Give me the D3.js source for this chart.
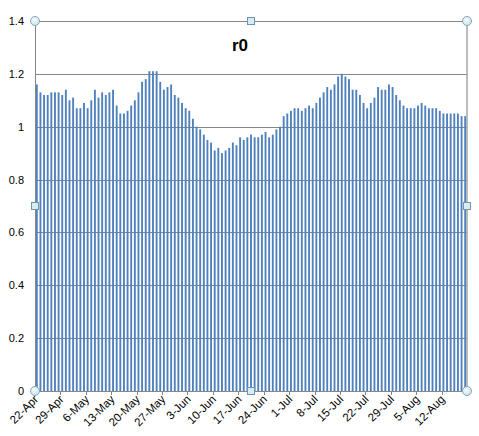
<!DOCTYPE html>
<html>
<head>
<meta charset="utf-8">
<script src="https://cdn.jsdelivr.net/npm/d3@7"></script>
<style>
body { margin: 0; background: #fff; }
svg text { font-family: "Liberation Sans", Arial, sans-serif; }
</style>
</head>
<body>
<script>
// daily r0 values, 22-Apr to 18-Aug
var r0Values = [
    1.16, 1.13, 1.12, 1.12, 1.13, 1.13, 1.13, 1.12, 1.14, 1.10,
    1.11, 1.07, 1.07, 1.09, 1.07, 1.10, 1.14, 1.11, 1.13, 1.12,
    1.13, 1.14, 1.08, 1.05, 1.05, 1.06, 1.08, 1.10, 1.13, 1.17,
    1.18, 1.21, 1.21, 1.21, 1.17, 1.14, 1.15, 1.16, 1.12, 1.11,
    1.09, 1.07, 1.06, 1.03, 1.00, 0.99, 0.97, 0.95, 0.94, 0.91,
    0.92, 0.90, 0.91, 0.92, 0.94, 0.93, 0.96, 0.95, 0.96, 0.97,
    0.96, 0.96, 0.97, 0.98, 0.96, 0.97, 0.99, 1.00, 1.04, 1.05,
    1.06, 1.07, 1.07, 1.06, 1.07, 1.08, 1.07, 1.09, 1.11, 1.13,
    1.15, 1.14, 1.16, 1.19, 1.20, 1.19, 1.18, 1.14, 1.14, 1.12,
    1.09, 1.07, 1.09, 1.11, 1.15, 1.14, 1.14, 1.16, 1.15, 1.12,
    1.10, 1.08, 1.07, 1.07, 1.07, 1.08, 1.09, 1.08, 1.07, 1.07,
    1.07, 1.06, 1.05, 1.05, 1.05, 1.05, 1.05, 1.04, 1.04
];
var startDay = new Date(2013, 3, 22);
var days = d3.timeDay.range(startDay, d3.timeDay.offset(startDay, r0Values.length));
var fmt = d3.timeFormat("%-d-%b");
var categories = days.map(fmt);

var xTickLabels = ["22-Apr", "29-Apr", "6-May", "13-May", "20-May", "27-May", "3-Jun",
    "10-Jun", "17-Jun", "24-Jun", "1-Jul", "8-Jul", "15-Jul", "22-Jul", "29-Jul", "5-Aug", "12-Aug"];
var yTicks = [0, 0.2, 0.4, 0.6, 0.8, 1, 1.2, 1.4];

var W = 479, H = 436;
var plot = {left: 35, right: 467, top: 21, bottom: 391};

var svg = d3.select("body").append("svg")
    .attr("width", W)
    .attr("height", H);

var x = d3.scaleBand()
    .domain(categories)
    .range([plot.left, plot.right])
    .paddingInner(0.48)
    .paddingOuter(0.24);

var y = d3.scaleLinear()
    .domain([0, 1.4])
    .range([plot.bottom, plot.top]);

// gridlines
svg.append("g").selectAll("line").data(yTicks).enter().append("line")
    .attr("x1", plot.left).attr("x2", plot.right)
    .attr("y1", function (d) { return Math.round(y(d)) + 0.5; })
    .attr("y2", function (d) { return Math.round(y(d)) + 0.5; })
    .attr("stroke", "#868686")
    .attr("stroke-width", 1);

// y labels
svg.append("g").selectAll("text").data(yTicks).enter().append("text")
    .attr("x", 24)
    .attr("y", function (d) { return y(d) + 4; })
    .attr("text-anchor", "end")
    .attr("font-size", "11px")
    .attr("fill", "#000")
    .text(function (d) { return d; });

// bars
svg.append("g").selectAll("rect").data(r0Values).enter().append("rect")
    .attr("x", function (d, i) { return x(categories[i]); })
    .attr("y", function (d) { return y(d); })
    .attr("width", x.bandwidth())
    .attr("height", function (d) { return y(0) - y(d); })
    .attr("fill", "#4f81bd");

// axes lines
svg.append("line")
    .attr("x1", plot.left + 0.5).attr("x2", plot.left + 0.5)
    .attr("y1", plot.top).attr("y2", plot.bottom)
    .attr("stroke", "#868686");
svg.append("line")
    .attr("x1", plot.right).attr("x2", plot.right)
    .attr("y1", plot.top).attr("y2", plot.bottom)
    .attr("stroke", "#a6a6a6")
    .attr("stroke-width", 1.5);

// x ticks and rotated labels, at the left edge of each labelled day
var step = x.step();
function tickX(lbl) {
    return x(lbl) - (step - x.bandwidth()) / 2;
}
svg.append("g").selectAll("line").data(xTickLabels).enter().append("line")
    .attr("x1", function (d) { return Math.round(tickX(d)) + 0.5; })
    .attr("x2", function (d) { return Math.round(tickX(d)) + 0.5; })
    .attr("y1", plot.bottom)
    .attr("y2", plot.bottom + 4)
    .attr("stroke", "#868686");

svg.append("g").selectAll("text").data(xTickLabels).enter().append("text")
    .attr("text-anchor", "end")
    .attr("font-size", "11.5px")
    .attr("fill", "#000")
    .attr("transform", function (d) {
        return "translate(" + (tickX(d) + 4) + "," + (plot.bottom + 9) + ") rotate(-45)";
    })
    .text(function (d) { return d; });

// title
svg.append("text")
    .attr("x", 240)
    .attr("y", 51)
    .attr("text-anchor", "middle")
    .attr("font-size", "17px")
    .attr("font-weight", "bold")
    .attr("fill", "#000")
    .text("r0");

// selection handles of the plot area
var cx = (plot.left + plot.right) / 2, cy = (plot.top + plot.bottom) / 2;
var corners = [[plot.left, plot.top], [plot.right, plot.top], [plot.left, plot.bottom], [plot.right, plot.bottom]];
var mids = [[cx, plot.top], [plot.left, cy], [plot.right, cy], [cx, plot.bottom]];

var grad = svg.append("defs").append("radialGradient")
    .attr("id", "hg").attr("cx", "40%").attr("cy", "35%").attr("r", "70%");
grad.append("stop").attr("offset", "0%").attr("stop-color", "#f4fbfd");
grad.append("stop").attr("offset", "100%").attr("stop-color", "#c6e4ee");

svg.append("g").selectAll("circle").data(corners).enter().append("circle")
    .attr("cx", function (d) { return d[0]; })
    .attr("cy", function (d) { return d[1]; })
    .attr("r", 4.5)
    .attr("fill", "url(#hg)")
    .attr("stroke", "#8aa5b5")
    .attr("stroke-width", 1);

svg.append("g").selectAll("rect").data(mids).enter().append("rect")
    .attr("x", function (d) { return d[0] - 3.5; })
    .attr("y", function (d) { return d[1] - 3.5; })
    .attr("width", 7)
    .attr("height", 7)
    .attr("fill", "#d7ecf3")
    .attr("stroke", "#6f95b3")
    .attr("stroke-width", 1);
</script>
</body>
</html>
